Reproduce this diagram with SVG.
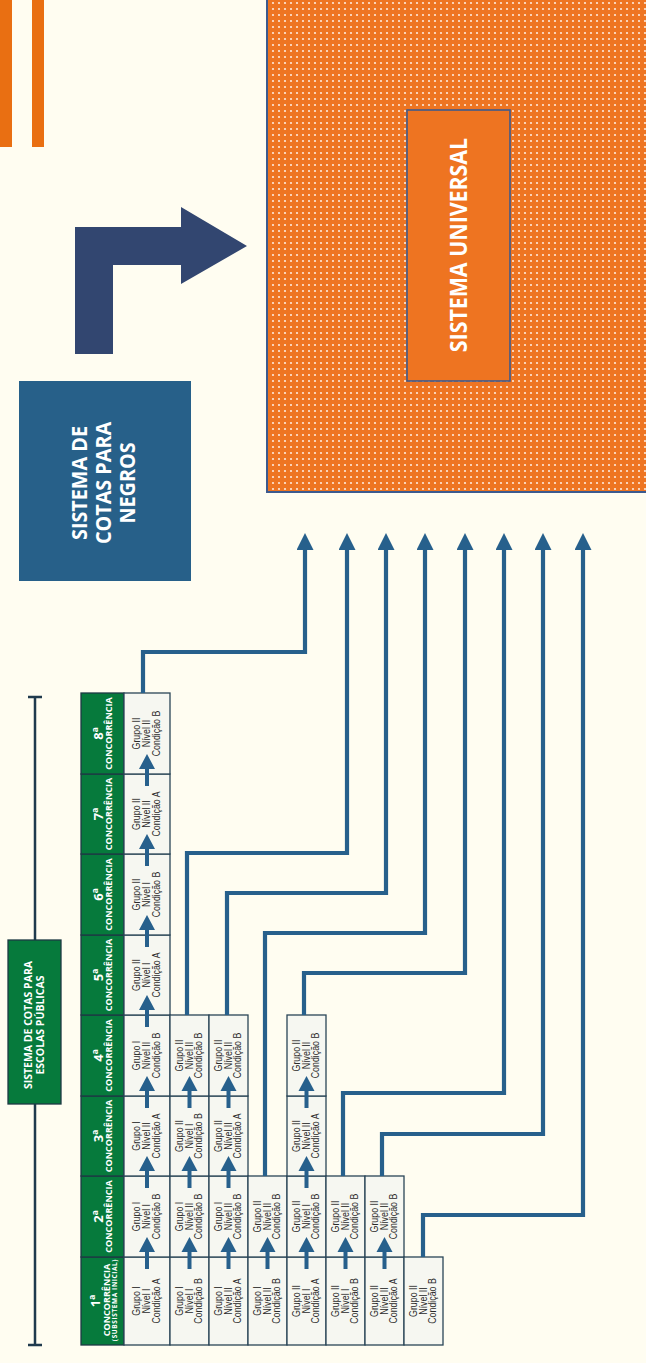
<svg xmlns="http://www.w3.org/2000/svg" width="646" height="1363" viewBox="0 0 646 1363">
<style>
.bg{fill:#fffdf1}
.cell rect{fill:#f6f7f1;stroke:#2a4657;stroke-width:1.3}
.cell text{font-family:"Liberation Sans",Arial,sans-serif;font-size:10.5px;fill:#2a2a2a;text-anchor:middle}
.hdr rect{fill:#067a3c;stroke:#1e3a44;stroke-width:1.3}
.hdr text{font-family:"Open Sans","DejaVu Sans",sans-serif;font-weight:bold;fill:#ffffff;text-anchor:middle}
.hnum{font-size:13px}
.hcon{font-size:9px}
.hsub{font-size:6.5px;letter-spacing:0.6px}
.conn path{fill:none;stroke:#27608c;stroke-width:4.2;stroke-linejoin:miter}
.ua{fill:#27608c}
.big{font-family:"Open Sans","DejaVu Sans",sans-serif;font-weight:bold;fill:#ffffff;text-anchor:middle}
</style>
<defs>
<pattern id="dots" width="6" height="6" patternUnits="userSpaceOnUse">
<rect width="6" height="6" fill="#ee7522"/>
<circle cx="3" cy="3" r="1.1" fill="#fde9da"/>
</pattern>
<marker id="ah" markerUnits="userSpaceOnUse" markerWidth="17" markerHeight="17" viewBox="0 0 17 17" refX="1" refY="8.5" orient="auto">
<path d="M0,0 L17,8.5 L0,17 Z" fill="#27608c"/>
</marker>
<g id="ua" class="ua"><rect x="-2" y="-6" width="4" height="18"/><polygon points="-8,-5 8,-5 0,-20"/></g>
</defs>
<rect class="bg" x="0" y="0" width="646" height="1363"/>

<g id="deco-bars">
<rect x="0" y="0" width="12" height="147" fill="#e96f12"/>
<rect x="32" y="0" width="12" height="147" fill="#e96f12"/>
</g>

<g id="sistema-universal">
<rect x="267" y="-1" width="385" height="493" fill="url(#dots)" stroke="#3d5a8e" stroke-width="2"/>
<rect x="407" y="110" width="103" height="271" fill="#ee7421" stroke="#3d5a8e" stroke-width="1.6"/>
<text class="big" font-size="24" transform="translate(467,245) rotate(-90) scale(0.89,1)">SISTEMA UNIVERSAL</text>
</g>

<g id="seta-l">
<polygon points="75,227 181,227 181,207 247,246 181,284 181,265 113,265 113,354 75,354" fill="#324670"/>
</g>

<g id="cotas-negros">
<rect x="19" y="381" width="172" height="200" fill="#276089"/>
<text class="big" font-size="22" transform="translate(0,483) rotate(-90) scale(0.9,1)"><tspan x="0" y="87.5">SISTEMA DE</tspan><tspan x="0" y="111.5">COTAS PARA</tspan><tspan x="0" y="135.5">NEGROS</tspan></text>
</g>

<g id="chave">
<path d="M35,697 V1345 M28,697 H42 M28,1345 H42" stroke="#1f3a4d" stroke-width="2.5" fill="none"/>
</g>

<g id="cotas-escolas">
<rect x="8" y="940" width="53" height="164" fill="#067a3c" stroke="#1e3a44" stroke-width="1.3"/>
<text class="big" font-size="10.5" transform="translate(0,1025) rotate(-90)"><tspan x="0" y="32.3">SISTEMA DE COTAS PARA</tspan><tspan x="0" y="44.3">ESCOLAS PÚBLICAS</tspan></text>
</g>

<g id="h1" class="hdr"><rect x="81" y="1257" width="43" height="88"/>
<text class="hnum" transform="translate(99.5,1301) rotate(-90)">1ª</text>
<text class="hcon" transform="translate(109.8,1300) rotate(-90)">CONCORRÊNCIA</text>
<text class="hsub" transform="translate(117.3,1300) rotate(-90)">(SUBSISTEMA INICIAL)</text></g>
<g id="h2" class="hdr"><rect x="81" y="1176" width="43" height="81"/>
<text class="hnum" transform="translate(102.6,1216.5) rotate(-90)">2ª</text>
<text class="hcon" transform="translate(111.6,1216.5) rotate(-90)">CONCORRÊNCIA</text></g>
<g id="h3" class="hdr"><rect x="81" y="1096" width="43" height="80"/>
<text class="hnum" transform="translate(102.6,1136) rotate(-90)">3ª</text>
<text class="hcon" transform="translate(111.6,1136) rotate(-90)">CONCORRÊNCIA</text></g>
<g id="h4" class="hdr"><rect x="81" y="1015" width="43" height="81"/>
<text class="hnum" transform="translate(102.6,1055.5) rotate(-90)">4ª</text>
<text class="hcon" transform="translate(111.6,1055.5) rotate(-90)">CONCORRÊNCIA</text></g>
<g id="h5" class="hdr"><rect x="81" y="935" width="43" height="80"/>
<text class="hnum" transform="translate(102.6,975) rotate(-90)">5ª</text>
<text class="hcon" transform="translate(111.6,975) rotate(-90)">CONCORRÊNCIA</text></g>
<g id="h6" class="hdr"><rect x="81" y="854" width="43" height="81"/>
<text class="hnum" transform="translate(102.6,894.5) rotate(-90)">6ª</text>
<text class="hcon" transform="translate(111.6,894.5) rotate(-90)">CONCORRÊNCIA</text></g>
<g id="h7" class="hdr"><rect x="81" y="774" width="43" height="80"/>
<text class="hnum" transform="translate(102.6,814) rotate(-90)">7ª</text>
<text class="hcon" transform="translate(111.6,814) rotate(-90)">CONCORRÊNCIA</text></g>
<g id="h8" class="hdr"><rect x="81" y="693" width="43" height="81"/>
<text class="hnum" transform="translate(102.6,733.5) rotate(-90)">8ª</text>
<text class="hcon" transform="translate(111.6,733.5) rotate(-90)">CONCORRÊNCIA</text></g>

<!-- column 1 -->
<g id="c1b1" class="cell"><rect x="124" y="1257" width="46" height="88"/><text transform="translate(146.5,1301) rotate(-90) scale(0.84,1)"><tspan x="0" y="-6.2">Grupo I</tspan><tspan x="0" y="3.5">Nível I</tspan><tspan x="0" y="13.2">Condição A</tspan></text></g>
<g id="c1b2" class="cell"><rect x="124" y="1176" width="46" height="81"/><text transform="translate(146.5,1216.5) rotate(-90) scale(0.84,1)"><tspan x="0" y="-6.2">Grupo I</tspan><tspan x="0" y="3.5">Nível I</tspan><tspan x="0" y="13.2">Condição B</tspan></text></g>
<g id="c1b3" class="cell"><rect x="124" y="1096" width="46" height="80"/><text transform="translate(146.5,1136) rotate(-90) scale(0.84,1)"><tspan x="0" y="-6.2">Grupo I</tspan><tspan x="0" y="3.5">Nível II</tspan><tspan x="0" y="13.2">Condição A</tspan></text></g>
<g id="c1b4" class="cell"><rect x="124" y="1015" width="46" height="81"/><text transform="translate(146.5,1055.5) rotate(-90) scale(0.84,1)"><tspan x="0" y="-6.2">Grupo I</tspan><tspan x="0" y="3.5">Nível II</tspan><tspan x="0" y="13.2">Condição B</tspan></text></g>
<g id="c1b5" class="cell"><rect x="124" y="935" width="46" height="80"/><text transform="translate(146.5,975) rotate(-90) scale(0.84,1)"><tspan x="0" y="-6.2">Grupo II</tspan><tspan x="0" y="3.5">Nível I</tspan><tspan x="0" y="13.2">Condição A</tspan></text></g>
<g id="c1b6" class="cell"><rect x="124" y="854" width="46" height="81"/><text transform="translate(146.5,894.5) rotate(-90) scale(0.84,1)"><tspan x="0" y="-6.2">Grupo II</tspan><tspan x="0" y="3.5">Nível I</tspan><tspan x="0" y="13.2">Condição B</tspan></text></g>
<g id="c1b7" class="cell"><rect x="124" y="774" width="46" height="80"/><text transform="translate(146.5,814) rotate(-90) scale(0.84,1)"><tspan x="0" y="-6.2">Grupo II</tspan><tspan x="0" y="3.5">Nível II</tspan><tspan x="0" y="13.2">Condição A</tspan></text></g>
<g id="c1b8" class="cell"><rect x="124" y="693" width="46" height="81"/><text transform="translate(146.5,733.5) rotate(-90) scale(0.84,1)"><tspan x="0" y="-6.2">Grupo II</tspan><tspan x="0" y="3.5">Nível II</tspan><tspan x="0" y="13.2">Condição B</tspan></text></g>

<!-- column 2 -->
<g id="c2b1" class="cell"><rect x="170" y="1257" width="39" height="88"/><text transform="translate(189,1301) rotate(-90) scale(0.84,1)"><tspan x="0" y="-6.2">Grupo I</tspan><tspan x="0" y="3.5">Nível I</tspan><tspan x="0" y="13.2">Condição B</tspan></text></g>
<g id="c2b2" class="cell"><rect x="170" y="1176" width="39" height="81"/><text transform="translate(189,1216.5) rotate(-90) scale(0.84,1)"><tspan x="0" y="-6.2">Grupo I</tspan><tspan x="0" y="3.5">Nível II</tspan><tspan x="0" y="13.2">Condição B</tspan></text></g>
<g id="c2b3" class="cell"><rect x="170" y="1096" width="39" height="80"/><text transform="translate(189,1136) rotate(-90) scale(0.84,1)"><tspan x="0" y="-6.2">Grupo II</tspan><tspan x="0" y="3.5">Nível I</tspan><tspan x="0" y="13.2">Condição B</tspan></text></g>
<g id="c2b4" class="cell"><rect x="170" y="1015" width="39" height="81"/><text transform="translate(189,1055.5) rotate(-90) scale(0.84,1)"><tspan x="0" y="-6.2">Grupo II</tspan><tspan x="0" y="3.5">Nível II</tspan><tspan x="0" y="13.2">Condição B</tspan></text></g>

<!-- column 3 -->
<g id="c3b1" class="cell"><rect x="209" y="1257" width="39" height="88"/><text transform="translate(228,1301) rotate(-90) scale(0.84,1)"><tspan x="0" y="-6.2">Grupo I</tspan><tspan x="0" y="3.5">Nível II</tspan><tspan x="0" y="13.2">Condição A</tspan></text></g>
<g id="c3b2" class="cell"><rect x="209" y="1176" width="39" height="81"/><text transform="translate(228,1216.5) rotate(-90) scale(0.84,1)"><tspan x="0" y="-6.2">Grupo I</tspan><tspan x="0" y="3.5">Nível II</tspan><tspan x="0" y="13.2">Condição B</tspan></text></g>
<g id="c3b3" class="cell"><rect x="209" y="1096" width="39" height="80"/><text transform="translate(228,1136) rotate(-90) scale(0.84,1)"><tspan x="0" y="-6.2">Grupo II</tspan><tspan x="0" y="3.5">Nível II</tspan><tspan x="0" y="13.2">Condição A</tspan></text></g>
<g id="c3b4" class="cell"><rect x="209" y="1015" width="39" height="81"/><text transform="translate(228,1055.5) rotate(-90) scale(0.84,1)"><tspan x="0" y="-6.2">Grupo II</tspan><tspan x="0" y="3.5">Nível II</tspan><tspan x="0" y="13.2">Condição B</tspan></text></g>

<!-- column 4 -->
<g id="c4b1" class="cell"><rect x="248" y="1257" width="39" height="88"/><text transform="translate(267,1301) rotate(-90) scale(0.84,1)"><tspan x="0" y="-6.2">Grupo I</tspan><tspan x="0" y="3.5">Nível II</tspan><tspan x="0" y="13.2">Condição B</tspan></text></g>
<g id="c4b2" class="cell"><rect x="248" y="1176" width="39" height="81"/><text transform="translate(267,1216.5) rotate(-90) scale(0.84,1)"><tspan x="0" y="-6.2">Grupo II</tspan><tspan x="0" y="3.5">Nível II</tspan><tspan x="0" y="13.2">Condição B</tspan></text></g>

<!-- column 5 -->
<g id="c5b1" class="cell"><rect x="287" y="1257" width="39" height="88"/><text transform="translate(306,1301) rotate(-90) scale(0.84,1)"><tspan x="0" y="-6.2">Grupo II</tspan><tspan x="0" y="3.5">Nível I</tspan><tspan x="0" y="13.2">Condição A</tspan></text></g>
<g id="c5b2" class="cell"><rect x="287" y="1176" width="39" height="81"/><text transform="translate(306,1216.5) rotate(-90) scale(0.84,1)"><tspan x="0" y="-6.2">Grupo II</tspan><tspan x="0" y="3.5">Nível I</tspan><tspan x="0" y="13.2">Condição B</tspan></text></g>
<g id="c5b3" class="cell"><rect x="287" y="1096" width="39" height="80"/><text transform="translate(306,1136) rotate(-90) scale(0.84,1)"><tspan x="0" y="-6.2">Grupo II</tspan><tspan x="0" y="3.5">Nível II</tspan><tspan x="0" y="13.2">Condição A</tspan></text></g>
<g id="c5b4" class="cell"><rect x="287" y="1015" width="39" height="81"/><text transform="translate(306,1055.5) rotate(-90) scale(0.84,1)"><tspan x="0" y="-6.2">Grupo II</tspan><tspan x="0" y="3.5">Nível II</tspan><tspan x="0" y="13.2">Condição B</tspan></text></g>

<!-- column 6 -->
<g id="c6b1" class="cell"><rect x="326" y="1257" width="39" height="88"/><text transform="translate(345,1301) rotate(-90) scale(0.84,1)"><tspan x="0" y="-6.2">Grupo II</tspan><tspan x="0" y="3.5">Nível I</tspan><tspan x="0" y="13.2">Condição B</tspan></text></g>
<g id="c6b2" class="cell"><rect x="326" y="1176" width="39" height="81"/><text transform="translate(345,1216.5) rotate(-90) scale(0.84,1)"><tspan x="0" y="-6.2">Grupo II</tspan><tspan x="0" y="3.5">Nível II</tspan><tspan x="0" y="13.2">Condição B</tspan></text></g>

<!-- column 7 -->
<g id="c7b1" class="cell"><rect x="365" y="1257" width="39" height="88"/><text transform="translate(384,1301) rotate(-90) scale(0.84,1)"><tspan x="0" y="-6.2">Grupo II</tspan><tspan x="0" y="3.5">Nível II</tspan><tspan x="0" y="13.2">Condição A</tspan></text></g>
<g id="c7b2" class="cell"><rect x="365" y="1176" width="39" height="81"/><text transform="translate(384,1216.5) rotate(-90) scale(0.84,1)"><tspan x="0" y="-6.2">Grupo II</tspan><tspan x="0" y="3.5">Nível II</tspan><tspan x="0" y="13.2">Condição B</tspan></text></g>

<!-- column 8 -->
<g id="c8b1" class="cell"><rect x="404" y="1257" width="39" height="88"/><text transform="translate(423,1301) rotate(-90) scale(0.84,1)"><tspan x="0" y="-6.2">Grupo II</tspan><tspan x="0" y="3.5">Nível II</tspan><tspan x="0" y="13.2">Condição B</tspan></text></g>

<g id="connectors" class="conn">
<path d="M143,693 V652 H305 V549" marker-end="url(#ah)"/>
<path d="M187,1015 V853 H347 V549" marker-end="url(#ah)"/>
<path d="M227,1015 V893 H386 V549" marker-end="url(#ah)"/>
<path d="M265,1176 V933 H425 V549" marker-end="url(#ah)"/>
<path d="M304,1015 V973 H465 V549" marker-end="url(#ah)"/>
<path d="M343,1176 V1093 H504 V549" marker-end="url(#ah)"/>
<path d="M382,1176 V1134 H543 V549" marker-end="url(#ah)"/>
<path d="M423,1257 V1215 H583 V549" marker-end="url(#ah)"/>
</g>

<g id="cell-arrows">
<use href="#ua" transform="translate(147,1257)"/>
<use href="#ua" transform="translate(147,1176)"/>
<use href="#ua" transform="translate(147,1096)"/>
<use href="#ua" transform="translate(147,1015)"/>
<use href="#ua" transform="translate(147,935)"/>
<use href="#ua" transform="translate(147,854)"/>
<use href="#ua" transform="translate(147,774)"/>
<use href="#ua" transform="translate(189.5,1257)"/>
<use href="#ua" transform="translate(189.5,1176)"/>
<use href="#ua" transform="translate(189.5,1096)"/>
<use href="#ua" transform="translate(228.5,1257)"/>
<use href="#ua" transform="translate(228.5,1176)"/>
<use href="#ua" transform="translate(228.5,1096)"/>
<use href="#ua" transform="translate(267.5,1257)"/>
<use href="#ua" transform="translate(306.5,1257)"/>
<use href="#ua" transform="translate(306.5,1176)"/>
<use href="#ua" transform="translate(306.5,1096)"/>
<use href="#ua" transform="translate(345.5,1257)"/>
<use href="#ua" transform="translate(384.5,1257)"/>
</g>
</svg>
